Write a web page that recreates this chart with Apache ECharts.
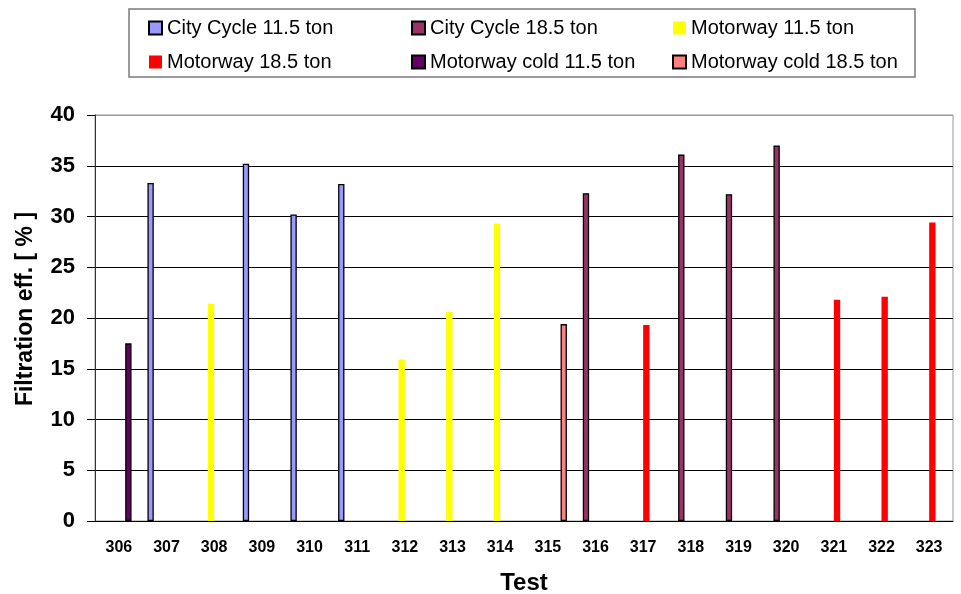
<!DOCTYPE html>
<html>
<head>
<meta charset="utf-8">
<script src="https://cdn.jsdelivr.net/npm/echarts@6/dist/echarts.min.js"></script>
<style>
  html, body { margin: 0; padding: 0; background: #fff; }
  #chart { width: 961px; height: 594px; }
</style>
</head>
<body>
<div id="chart"></div>
<script>
// test numbers
const tests = ['306', '307', '308', '309', '310', '311', '312', '313', '314',
  '315', '316', '317', '318', '319', '320', '321', '322', '323']

// one value per test, null where the series has no run
const cityCycle115 = [null, 33.3, null, 35.2, 30.2, 33.2, null, null, null,
  null, null, null, null, null, null, null, null, null]
const cityCycle185 = [null, null, null, null, null, null, null, null, null,
  null, 32.3, null, 36.1, 32.2, 37.0, null, null, null]
const motorway115 = [null, null, 21.4, null, null, null, 15.9, 20.6, 29.3,
  null, null, null, null, null, null, null, null, null]
const motorway185 = [null, null, null, null, null, null, null, null, null,
  null, null, 19.3, null, null, null, 21.8, 22.1, 29.4]
const motorwayCold115 = [17.5, null, null, null, null, null, null, null, null,
  null, null, null, null, null, null, null, null, null]
const motorwayCold185 = [null, null, null, null, null, null, null, null, null,
  19.4, null, null, null, null, null, null, null, null]

const yTicks = [0, 5, 10, 15, 20, 25, 30, 35, 40]

const font = "'Liberation Sans', Arial, sans-serif"

function bar(name, data, color, outlined) {
  return {
    name: name,
    type: 'bar',
    data: data,
    barGap: '0%',
    barCategoryGap: '20%',
    itemStyle: {
      color: color,
      borderColor: outlined ? '#000' : color,
      borderWidth: outlined ? 1.3 : 0,
    },
  }
}

function legendCol(left, names) {
  return {
    orient: 'vertical',
    left: left,
    top: 18,
    padding: 0,
    itemGap: 14,
    itemWidth: 13,
    itemHeight: 13,
    icon: 'rect',
    selectedMode: false,
    data: names,
    textStyle: { fontFamily: font, fontSize: 20, color: '#000' },
  }
}

const chart = echarts.init(document.getElementById('chart'))
chart.setOption({
  animation: false,
  backgroundColor: '#fff',
  graphic: [
    {
      type: 'rect',
      shape: { x: 129, y: 9, width: 786, height: 68 },
      style: { fill: '#fff', stroke: '#7a7a7a', lineWidth: 1.5 },
      z: -1,
    },
  ],
  legend: [
    legendCol(148, ['City Cycle 11.5 ton', 'Motorway 18.5 ton']),
    legendCol(411, ['City Cycle 18.5 ton', 'Motorway cold 11.5 ton']),
    legendCol(672, ['Motorway 11.5 ton', 'Motorway cold 18.5 ton']),
  ],
  grid: {
    left: 95,
    right: 8,
    top: 115,
    bottom: 73,
    outerBoundsMode: 'none',
    containLabel: false,
    show: true,
    borderColor: '#999',
    borderWidth: 1,
  },
  xAxis: {
    type: 'category',
    data: tests,
    name: 'Test',
    nameLocation: 'middle',
    nameGap: 50,
    nameTextStyle: { fontFamily: font, fontSize: 24, fontWeight: 'bold', color: '#000' },
    axisLine: { lineStyle: { color: '#000', width: 1 } },
    axisTick: { alignWithLabel: false, length: 5, lineStyle: { color: '#000' } },
    axisLabel: { fontFamily: font, fontSize: 16, fontWeight: 'bold', color: '#000', margin: 19 },
  },
  yAxis: {
    type: 'value',
    min: yTicks[0],
    max: yTicks[yTicks.length - 1],
    interval: 5,
    name: 'Filtration eff. [ % ]',
    nameLocation: 'middle',
    nameGap: 58,
    nameTextStyle: {
      fontFamily: font, fontSize: 23, fontWeight: 'bold', color: '#000',
      padding: [0, 0, 0, 18],
    },
    axisLine: { show: true, lineStyle: { color: '#333', width: 1 } },
    axisTick: { show: true, length: 8, lineStyle: { color: '#000' } },
    axisLabel: { fontFamily: font, fontSize: 22, fontWeight: 'bold', color: '#000', margin: 20 },
    splitLine: {
      lineStyle: {
        color: ['#000', '#000', '#000', '#000', '#000', '#000', '#000', '#000', '#999'],
        width: 1,
      },
    },
  },
  series: [
    bar('City Cycle 11.5 ton', cityCycle115, '#9999ff', true),
    bar('City Cycle 18.5 ton', cityCycle185, '#993366', true),
    bar('Motorway 11.5 ton', motorway115, '#ffff00', false),
    bar('Motorway 18.5 ton', motorway185, '#ff0000', false),
    bar('Motorway cold 11.5 ton', motorwayCold115, '#660066', true),
    bar('Motorway cold 18.5 ton', motorwayCold185, '#ff8080', true),
  ],
})
</script>
</body>
</html>
